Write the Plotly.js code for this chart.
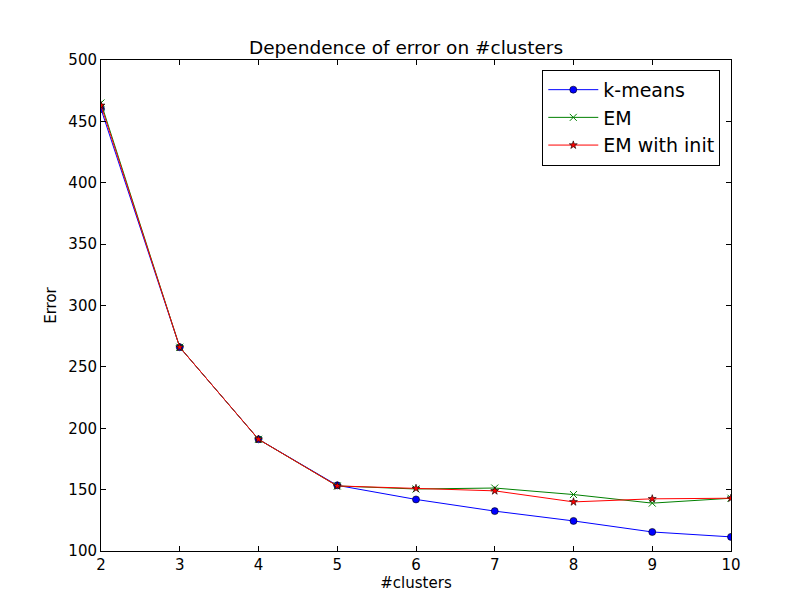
<!DOCTYPE html>
<html>
<head>
<script src="https://cdn.plot.ly/plotly-3.0.1.min.js"></script>
<style>body{margin:0;background:#fff}</style>
</head>
<body>
<div id="chart" style="width:812px;height:612px"></div>
<script>
var clusters = [2, 3, 4, 5, 6, 7, 8, 9, 10];
var kmeans = [460, 266, 191, 153.5, 142, 132.5, 124.5, 115.5, 111.5];
var em = [465, 266, 191, 153, 150.5, 151.3, 146, 139, 143];
var emInit = [463, 266, 191, 153, 151, 149, 140, 142.5, 143];

var data = [
  {x: clusters, y: kmeans, name: 'k-means', mode: 'lines+markers', type: 'scatter',
   line: {color: '#0000ff', width: 1}, marker: {symbol: 'circle', size: 7, color: '#0000ff', line: {color: '#000', width: 0.6}}},
  {x: clusters, y: em, name: 'EM', mode: 'lines+markers', type: 'scatter',
   line: {color: '#008000', width: 1}, marker: {symbol: 'x-thin', size: 7, line: {color: '#008000', width: 1}}},
  {x: clusters, y: emInit, name: 'EM with init', mode: 'lines+markers', type: 'scatter',
   line: {color: '#ff0000', width: 1}, marker: {symbol: 'star', size: 6, color: '#ff0000', line: {color: '#000', width: 0.6}}}
];

var axisStyle = {showgrid: false, zeroline: false, showline: true, mirror: 'ticks', linecolor: '#000',
  ticks: 'inside', ticklen: 5, tickcolor: '#000', tickfont: {size: 15, color: '#000'}};

var layout = {
  width: 812, height: 612,
  margin: {l: 101, r: 81, t: 60, b: 61},
  font: {family: 'DejaVu Sans', color: '#000'},
  title: {text: 'Dependence of error on #clusters', font: {size: 18.5}, y: 0.923, yanchor: 'middle'},
  xaxis: Object.assign({range: [2, 10], dtick: 1, title: {text: '#clusters', font: {size: 15}, standoff: 4}}, axisStyle),
  yaxis: Object.assign({range: [100, 500], dtick: 50, title: {text: 'Error', font: {size: 15}, standoff: 8}}, axisStyle),
  legend: {x: 0.983, y: 0.98, xanchor: 'right', yanchor: 'top', bordercolor: '#000', borderwidth: 1,
    font: {size: 19}, bgcolor: '#fff', itemwidth: 50, tracegroupgap: 4},
  showlegend: true,
  plot_bgcolor: '#fff', paper_bgcolor: '#fff'
};

Plotly.newPlot('chart', data, layout, {displayModeBar: false});
</script>
</body>
</html>
